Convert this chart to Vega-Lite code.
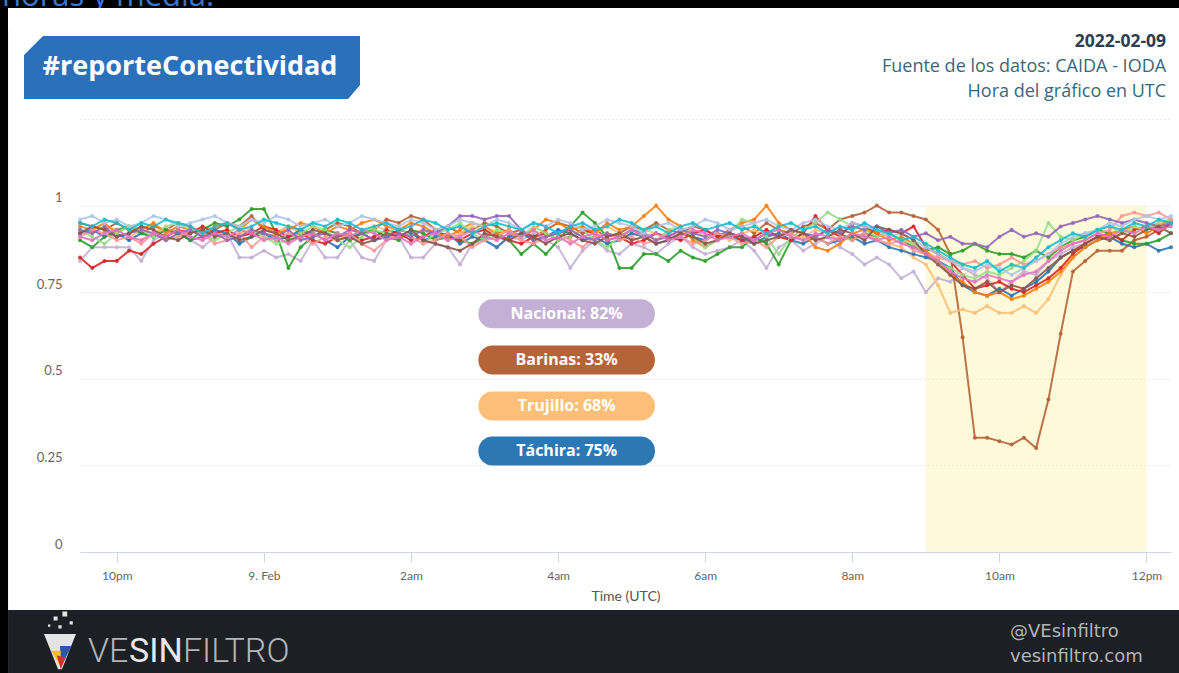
{
"$schema": "https://vega.github.io/schema/vega-lite/v6.json",
"width": 1091, "height": 433,
"autosize": {"type": "none"},
"padding": {"left": 80, "top": 119, "right": 8, "bottom": 121},
"background": "white",
"config": {"legend": {"disable": true}, "view": {"stroke": null}},
"data": {"values": [
{"t":"2022-02-08T21:30","NAC":0.84,"BAR":0.95,"TRU":0.93,"TAC":0.92,"MER":0.90,"ZUL":0.85,"LAR":0.94,"APU":0.93,"FAL":0.91,"SUC":0.93,"ARA":0.96,"MIR":0.92,"BOL":0.91,"YAR":0.95},
{"t":"2022-02-08T21:40","NAC":0.88,"BAR":0.94,"TRU":0.92,"TAC":0.93,"MER":0.88,"ZUL":0.82,"LAR":0.93,"APU":0.91,"FAL":0.93,"SUC":0.92,"ARA":0.97,"MIR":0.94,"BOL":0.90,"YAR":0.94},
{"t":"2022-02-08T21:50","NAC":0.88,"BAR":0.93,"TRU":0.94,"TAC":0.91,"MER":0.91,"ZUL":0.84,"LAR":0.95,"APU":0.89,"FAL":0.92,"SUC":0.94,"ARA":0.95,"MIR":0.93,"BOL":0.92,"YAR":0.96},
{"t":"2022-02-08T22:00","NAC":0.88,"BAR":0.95,"TRU":0.93,"TAC":0.92,"MER":0.93,"ZUL":0.84,"LAR":0.92,"APU":0.92,"FAL":0.90,"SUC":0.91,"ARA":0.96,"MIR":0.91,"BOL":0.93,"YAR":0.95},
{"t":"2022-02-08T22:10","NAC":0.88,"BAR":0.93,"TRU":0.91,"TAC":0.90,"MER":0.94,"ZUL":0.87,"LAR":0.94,"APU":0.94,"FAL":0.91,"SUC":0.92,"ARA":0.94,"MIR":0.92,"BOL":0.91,"YAR":0.93},
{"t":"2022-02-08T22:20","NAC":0.84,"BAR":0.92,"TRU":0.93,"TAC":0.92,"MER":0.92,"ZUL":0.86,"LAR":0.93,"APU":0.93,"FAL":0.89,"SUC":0.93,"ARA":0.95,"MIR":0.94,"BOL":0.90,"YAR":0.95},
{"t":"2022-02-08T22:30","NAC":0.90,"BAR":0.94,"TRU":0.92,"TAC":0.91,"MER":0.91,"ZUL":0.89,"LAR":0.95,"APU":0.91,"FAL":0.92,"SUC":0.92,"ARA":0.97,"MIR":0.93,"BOL":0.92,"YAR":0.94},
{"t":"2022-02-08T22:40","NAC":0.92,"BAR":0.93,"TRU":0.94,"TAC":0.93,"MER":0.93,"ZUL":0.91,"LAR":0.92,"APU":0.94,"FAL":0.90,"SUC":0.90,"ARA":0.96,"MIR":0.91,"BOL":0.91,"YAR":0.96},
{"t":"2022-02-08T22:50","NAC":0.93,"BAR":0.95,"TRU":0.91,"TAC":0.92,"MER":0.92,"ZUL":0.93,"LAR":0.94,"APU":0.95,"FAL":0.91,"SUC":0.92,"ARA":0.94,"MIR":0.90,"BOL":0.93,"YAR":0.95},
{"t":"2022-02-08T23:00","NAC":0.90,"BAR":0.94,"TRU":0.92,"TAC":0.90,"MER":0.90,"ZUL":0.92,"LAR":0.93,"APU":0.93,"FAL":0.93,"SUC":0.93,"ARA":0.95,"MIR":0.92,"BOL":0.91,"YAR":0.94},
{"t":"2022-02-08T23:10","NAC":0.88,"BAR":0.92,"TRU":0.94,"TAC":0.91,"MER":0.93,"ZUL":0.94,"LAR":0.91,"APU":0.92,"FAL":0.92,"SUC":0.91,"ARA":0.96,"MIR":0.93,"BOL":0.90,"YAR":0.92},
{"t":"2022-02-08T23:20","NAC":0.91,"BAR":0.93,"TRU":0.93,"TAC":0.93,"MER":0.95,"ZUL":0.92,"LAR":0.94,"APU":0.90,"FAL":0.89,"SUC":0.92,"ARA":0.97,"MIR":0.91,"BOL":0.92,"YAR":0.94},
{"t":"2022-02-08T23:30","NAC":0.92,"BAR":0.95,"TRU":0.91,"TAC":0.92,"MER":0.94,"ZUL":0.93,"LAR":0.95,"APU":0.92,"FAL":0.90,"SUC":0.90,"ARA":0.95,"MIR":0.92,"BOL":0.91,"YAR":0.95},
{"t":"2022-02-08T23:40","NAC":0.85,"BAR":0.94,"TRU":0.92,"TAC":0.89,"MER":0.96,"ZUL":0.91,"LAR":0.93,"APU":0.94,"FAL":0.92,"SUC":0.91,"ARA":0.94,"MIR":0.90,"BOL":0.93,"YAR":0.93},
{"t":"2022-02-08T23:50","NAC":0.85,"BAR":0.97,"TRU":0.93,"TAC":0.91,"MER":0.99,"ZUL":0.92,"LAR":0.96,"APU":0.93,"FAL":0.88,"SUC":0.93,"ARA":0.96,"MIR":0.91,"BOL":0.92,"YAR":0.94},
{"t":"2022-02-09T00:00","NAC":0.87,"BAR":0.93,"TRU":0.90,"TAC":0.92,"MER":0.99,"ZUL":0.94,"LAR":0.94,"APU":0.91,"FAL":0.91,"SUC":0.92,"ARA":0.95,"MIR":0.93,"BOL":0.90,"YAR":0.96},
{"t":"2022-02-09T00:10","NAC":0.85,"BAR":0.92,"TRU":0.92,"TAC":0.90,"MER":0.92,"ZUL":0.93,"LAR":0.92,"APU":0.89,"FAL":0.90,"SUC":0.91,"ARA":0.97,"MIR":0.92,"BOL":0.91,"YAR":0.95},
{"t":"2022-02-09T00:20","NAC":0.86,"BAR":0.94,"TRU":0.94,"TAC":0.91,"MER":0.82,"ZUL":0.91,"LAR":0.93,"APU":0.90,"FAL":0.92,"SUC":0.93,"ARA":0.96,"MIR":0.90,"BOL":0.89,"YAR":0.94},
{"t":"2022-02-09T00:30","NAC":0.84,"BAR":0.93,"TRU":0.92,"TAC":0.93,"MER":0.88,"ZUL":0.92,"LAR":0.95,"APU":0.92,"FAL":0.91,"SUC":0.90,"ARA":0.94,"MIR":0.91,"BOL":0.91,"YAR":0.93},
{"t":"2022-02-09T00:40","NAC":0.90,"BAR":0.91,"TRU":0.91,"TAC":0.92,"MER":0.91,"ZUL":0.90,"LAR":0.94,"APU":0.94,"FAL":0.89,"SUC":0.91,"ARA":0.95,"MIR":0.93,"BOL":0.92,"YAR":0.95},
{"t":"2022-02-09T00:50","NAC":0.85,"BAR":0.93,"TRU":0.93,"TAC":0.90,"MER":0.93,"ZUL":0.89,"LAR":0.92,"APU":0.93,"FAL":0.91,"SUC":0.92,"ARA":0.96,"MIR":0.92,"BOL":0.90,"YAR":0.94},
{"t":"2022-02-09T01:00","NAC":0.85,"BAR":0.95,"TRU":0.92,"TAC":0.88,"MER":0.92,"ZUL":0.91,"LAR":0.94,"APU":0.90,"FAL":0.90,"SUC":0.91,"ARA":0.94,"MIR":0.90,"BOL":0.92,"YAR":0.96},
{"t":"2022-02-09T01:10","NAC":0.90,"BAR":0.94,"TRU":0.90,"TAC":0.91,"MER":0.90,"ZUL":0.92,"LAR":0.93,"APU":0.88,"FAL":0.92,"SUC":0.93,"ARA":0.95,"MIR":0.91,"BOL":0.91,"YAR":0.95},
{"t":"2022-02-09T01:20","NAC":0.85,"BAR":0.92,"TRU":0.92,"TAC":0.92,"MER":0.92,"ZUL":0.90,"LAR":0.95,"APU":0.91,"FAL":0.89,"SUC":0.92,"ARA":0.97,"MIR":0.89,"BOL":0.93,"YAR":0.93},
{"t":"2022-02-09T01:30","NAC":0.84,"BAR":0.93,"TRU":0.94,"TAC":0.90,"MER":0.93,"ZUL":0.91,"LAR":0.96,"APU":0.93,"FAL":0.87,"SUC":0.90,"ARA":0.96,"MIR":0.90,"BOL":0.92,"YAR":0.94},
{"t":"2022-02-09T01:40","NAC":0.90,"BAR":0.96,"TRU":0.93,"TAC":0.91,"MER":0.91,"ZUL":0.93,"LAR":0.94,"APU":0.92,"FAL":0.90,"SUC":0.91,"ARA":0.95,"MIR":0.92,"BOL":0.90,"YAR":0.95},
{"t":"2022-02-09T01:50","NAC":0.91,"BAR":0.95,"TRU":0.91,"TAC":0.93,"MER":0.90,"ZUL":0.92,"LAR":0.93,"APU":0.94,"FAL":0.92,"SUC":0.92,"ARA":0.94,"MIR":0.91,"BOL":0.91,"YAR":0.93},
{"t":"2022-02-09T02:00","NAC":0.85,"BAR":0.97,"TRU":0.92,"TAC":0.92,"MER":0.93,"ZUL":0.90,"LAR":0.95,"APU":0.91,"FAL":0.91,"SUC":0.91,"ARA":0.96,"MIR":0.93,"BOL":0.89,"YAR":0.94},
{"t":"2022-02-09T02:10","NAC":0.85,"BAR":0.96,"TRU":0.93,"TAC":0.90,"MER":0.92,"ZUL":0.91,"LAR":0.94,"APU":0.89,"FAL":0.89,"SUC":0.93,"ARA":0.95,"MIR":0.90,"BOL":0.91,"YAR":0.96},
{"t":"2022-02-09T02:20","NAC":0.89,"BAR":0.93,"TRU":0.91,"TAC":0.91,"MER":0.90,"ZUL":0.93,"LAR":0.92,"APU":0.92,"FAL":0.90,"SUC":0.92,"ARA":0.93,"MIR":0.89,"BOL":0.92,"YAR":0.95},
{"t":"2022-02-09T02:30","NAC":0.88,"BAR":0.94,"TRU":0.90,"TAC":0.92,"MER":0.91,"ZUL":0.91,"LAR":0.91,"APU":0.93,"FAL":0.92,"SUC":0.94,"ARA":0.94,"MIR":0.88,"BOL":0.90,"YAR":0.93},
{"t":"2022-02-09T02:40","NAC":0.83,"BAR":0.92,"TRU":0.92,"TAC":0.89,"MER":0.90,"ZUL":0.90,"LAR":0.93,"APU":0.95,"FAL":0.91,"SUC":0.97,"ARA":0.96,"MIR":0.87,"BOL":0.91,"YAR":0.94},
{"t":"2022-02-09T02:50","NAC":0.89,"BAR":0.93,"TRU":0.94,"TAC":0.91,"MER":0.89,"ZUL":0.92,"LAR":0.95,"APU":0.92,"FAL":0.88,"SUC":0.97,"ARA":0.95,"MIR":0.89,"BOL":0.93,"YAR":0.92},
{"t":"2022-02-09T03:00","NAC":0.90,"BAR":0.95,"TRU":0.93,"TAC":0.90,"MER":0.91,"ZUL":0.93,"LAR":0.94,"APU":0.90,"FAL":0.90,"SUC":0.96,"ARA":0.94,"MIR":0.92,"BOL":0.91,"YAR":0.94},
{"t":"2022-02-09T03:10","NAC":0.88,"BAR":0.94,"TRU":0.92,"TAC":0.88,"MER":0.92,"ZUL":0.91,"LAR":0.92,"APU":0.93,"FAL":0.91,"SUC":0.97,"ARA":0.96,"MIR":0.91,"BOL":0.90,"YAR":0.95},
{"t":"2022-02-09T03:20","NAC":0.91,"BAR":0.92,"TRU":0.90,"TAC":0.91,"MER":0.90,"ZUL":0.90,"LAR":0.93,"APU":0.92,"FAL":0.93,"SUC":0.97,"ARA":0.95,"MIR":0.90,"BOL":0.92,"YAR":0.94},
{"t":"2022-02-09T03:30","NAC":0.90,"BAR":0.93,"TRU":0.92,"TAC":0.92,"MER":0.86,"ZUL":0.89,"LAR":0.91,"APU":0.91,"FAL":0.90,"SUC":0.93,"ARA":0.93,"MIR":0.92,"BOL":0.91,"YAR":0.93},
{"t":"2022-02-09T03:40","NAC":0.92,"BAR":0.91,"TRU":0.93,"TAC":0.90,"MER":0.89,"ZUL":0.91,"LAR":0.93,"APU":0.94,"FAL":0.89,"SUC":0.90,"ARA":0.95,"MIR":0.91,"BOL":0.93,"YAR":0.95},
{"t":"2022-02-09T03:50","NAC":0.90,"BAR":0.93,"TRU":0.91,"TAC":0.91,"MER":0.86,"ZUL":0.92,"LAR":0.96,"APU":0.92,"FAL":0.91,"SUC":0.91,"ARA":0.94,"MIR":0.89,"BOL":0.90,"YAR":0.94},
{"t":"2022-02-09T04:00","NAC":0.88,"BAR":0.95,"TRU":0.92,"TAC":0.93,"MER":0.90,"ZUL":0.90,"LAR":0.95,"APU":0.90,"FAL":0.92,"SUC":0.92,"ARA":0.96,"MIR":0.91,"BOL":0.91,"YAR":0.92},
{"t":"2022-02-09T04:10","NAC":0.82,"BAR":0.94,"TRU":0.93,"TAC":0.92,"MER":0.94,"ZUL":0.91,"LAR":0.93,"APU":0.91,"FAL":0.90,"SUC":0.93,"ARA":0.95,"MIR":0.92,"BOL":0.89,"YAR":0.94},
{"t":"2022-02-09T04:20","NAC":0.87,"BAR":0.92,"TRU":0.91,"TAC":0.90,"MER":0.98,"ZUL":0.93,"LAR":0.94,"APU":0.93,"FAL":0.88,"SUC":0.91,"ARA":0.93,"MIR":0.90,"BOL":0.91,"YAR":0.95},
{"t":"2022-02-09T04:30","NAC":0.90,"BAR":0.93,"TRU":0.92,"TAC":0.91,"MER":0.95,"ZUL":0.92,"LAR":0.92,"APU":0.90,"FAL":0.91,"SUC":0.90,"ARA":0.94,"MIR":0.89,"BOL":0.92,"YAR":0.93},
{"t":"2022-02-09T04:40","NAC":0.87,"BAR":0.91,"TRU":0.94,"TAC":0.89,"MER":0.91,"ZUL":0.90,"LAR":0.95,"APU":0.88,"FAL":0.92,"SUC":0.92,"ARA":0.96,"MIR":0.91,"BOL":0.90,"YAR":0.94},
{"t":"2022-02-09T04:50","NAC":0.86,"BAR":0.92,"TRU":0.92,"TAC":0.90,"MER":0.82,"ZUL":0.91,"LAR":0.93,"APU":0.91,"FAL":0.90,"SUC":0.91,"ARA":0.95,"MIR":0.92,"BOL":0.91,"YAR":0.96},
{"t":"2022-02-09T05:00","NAC":0.89,"BAR":0.94,"TRU":0.91,"TAC":0.92,"MER":0.82,"ZUL":0.89,"LAR":0.94,"APU":0.93,"FAL":0.91,"SUC":0.93,"ARA":0.94,"MIR":0.90,"BOL":0.93,"YAR":0.95},
{"t":"2022-02-09T05:10","NAC":0.88,"BAR":0.93,"TRU":0.93,"TAC":0.91,"MER":0.86,"ZUL":0.90,"LAR":0.97,"APU":0.92,"FAL":0.89,"SUC":0.92,"ARA":0.92,"MIR":0.91,"BOL":0.91,"YAR":0.93},
{"t":"2022-02-09T05:20","NAC":0.86,"BAR":0.95,"TRU":0.92,"TAC":0.89,"MER":0.86,"ZUL":0.92,"LAR":1.00,"APU":0.90,"FAL":0.90,"SUC":0.90,"ARA":0.94,"MIR":0.89,"BOL":0.92,"YAR":0.94},
{"t":"2022-02-09T05:30","NAC":0.89,"BAR":0.93,"TRU":0.90,"TAC":0.90,"MER":0.84,"ZUL":0.91,"LAR":0.96,"APU":0.93,"FAL":0.92,"SUC":0.91,"ARA":0.95,"MIR":0.90,"BOL":0.90,"YAR":0.92},
{"t":"2022-02-09T05:40","NAC":0.91,"BAR":0.92,"TRU":0.92,"TAC":0.92,"MER":0.87,"ZUL":0.90,"LAR":0.94,"APU":0.94,"FAL":0.91,"SUC":0.93,"ARA":0.93,"MIR":0.92,"BOL":0.91,"YAR":0.94},
{"t":"2022-02-09T05:50","NAC":0.88,"BAR":0.94,"TRU":0.93,"TAC":0.91,"MER":0.85,"ZUL":0.92,"LAR":0.90,"APU":0.91,"FAL":0.89,"SUC":0.92,"ARA":0.94,"MIR":0.91,"BOL":0.93,"YAR":0.95},
{"t":"2022-02-09T06:00","NAC":0.86,"BAR":0.93,"TRU":0.91,"TAC":0.90,"MER":0.84,"ZUL":0.93,"LAR":0.88,"APU":0.88,"FAL":0.90,"SUC":0.91,"ARA":0.96,"MIR":0.89,"BOL":0.92,"YAR":0.93},
{"t":"2022-02-09T06:10","NAC":0.87,"BAR":0.91,"TRU":0.92,"TAC":0.92,"MER":0.86,"ZUL":0.91,"LAR":0.90,"APU":0.90,"FAL":0.92,"SUC":0.93,"ARA":0.95,"MIR":0.90,"BOL":0.90,"YAR":0.94},
{"t":"2022-02-09T06:20","NAC":0.88,"BAR":0.93,"TRU":0.90,"TAC":0.91,"MER":0.88,"ZUL":0.92,"LAR":0.93,"APU":0.92,"FAL":0.91,"SUC":0.92,"ARA":0.93,"MIR":0.92,"BOL":0.91,"YAR":0.95},
{"t":"2022-02-09T06:30","NAC":0.90,"BAR":0.94,"TRU":0.92,"TAC":0.90,"MER":0.88,"ZUL":0.90,"LAR":0.95,"APU":0.96,"FAL":0.89,"SUC":0.91,"ARA":0.94,"MIR":0.91,"BOL":0.92,"YAR":0.93},
{"t":"2022-02-09T06:40","NAC":0.87,"BAR":0.92,"TRU":0.93,"TAC":0.89,"MER":0.91,"ZUL":0.91,"LAR":0.96,"APU":0.95,"FAL":0.90,"SUC":0.90,"ARA":0.95,"MIR":0.89,"BOL":0.90,"YAR":0.94},
{"t":"2022-02-09T06:50","NAC":0.82,"BAR":0.95,"TRU":0.91,"TAC":0.91,"MER":0.89,"ZUL":0.93,"LAR":1.00,"APU":0.91,"FAL":0.88,"SUC":0.92,"ARA":0.96,"MIR":0.90,"BOL":0.92,"YAR":0.92},
{"t":"2022-02-09T07:00","NAC":0.88,"BAR":0.93,"TRU":0.92,"TAC":0.92,"MER":0.83,"ZUL":0.91,"LAR":0.95,"APU":0.86,"FAL":0.91,"SUC":0.91,"ARA":0.94,"MIR":0.91,"BOL":0.93,"YAR":0.94},
{"t":"2022-02-09T07:10","NAC":0.90,"BAR":0.92,"TRU":0.90,"TAC":0.90,"MER":0.90,"ZUL":0.90,"LAR":0.93,"APU":0.91,"FAL":0.92,"SUC":0.93,"ARA":0.93,"MIR":0.93,"BOL":0.91,"YAR":0.95},
{"t":"2022-02-09T07:20","NAC":0.87,"BAR":0.94,"TRU":0.91,"TAC":0.89,"MER":0.92,"ZUL":0.92,"LAR":0.92,"APU":0.93,"FAL":0.90,"SUC":0.92,"ARA":0.95,"MIR":0.92,"BOL":0.90,"YAR":0.93},
{"t":"2022-02-09T07:30","NAC":0.89,"BAR":0.95,"TRU":0.93,"TAC":0.91,"MER":0.91,"ZUL":0.97,"LAR":0.88,"APU":0.95,"FAL":0.91,"SUC":0.91,"ARA":0.96,"MIR":0.90,"BOL":0.92,"YAR":0.94},
{"t":"2022-02-09T07:40","NAC":0.91,"BAR":0.93,"TRU":0.92,"TAC":0.89,"MER":0.93,"ZUL":0.93,"LAR":0.87,"APU":0.98,"FAL":0.89,"SUC":0.93,"ARA":0.94,"MIR":0.91,"BOL":0.91,"YAR":0.92},
{"t":"2022-02-09T07:50","NAC":0.88,"BAR":0.96,"TRU":0.90,"TAC":0.90,"MER":0.92,"ZUL":0.91,"LAR":0.89,"APU":0.96,"FAL":0.91,"SUC":0.92,"ARA":0.93,"MIR":0.93,"BOL":0.90,"YAR":0.94},
{"t":"2022-02-09T08:00","NAC":0.86,"BAR":0.97,"TRU":0.91,"TAC":0.91,"MER":0.90,"ZUL":0.95,"LAR":0.92,"APU":0.94,"FAL":0.90,"SUC":0.94,"ARA":0.95,"MIR":0.92,"BOL":0.92,"YAR":0.93},
{"t":"2022-02-09T08:10","NAC":0.83,"BAR":0.98,"TRU":0.92,"TAC":0.89,"MER":0.92,"ZUL":0.94,"LAR":0.93,"APU":0.93,"FAL":0.92,"SUC":0.93,"ARA":0.94,"MIR":0.90,"BOL":0.91,"YAR":0.95},
{"t":"2022-02-09T08:20","NAC":0.85,"BAR":1.00,"TRU":0.90,"TAC":0.90,"MER":0.91,"ZUL":0.92,"LAR":0.92,"APU":0.91,"FAL":0.90,"SUC":0.94,"ARA":0.93,"MIR":0.94,"BOL":0.90,"YAR":0.93},
{"t":"2022-02-09T08:30","NAC":0.83,"BAR":0.98,"TRU":0.89,"TAC":0.88,"MER":0.92,"ZUL":0.93,"LAR":0.90,"APU":0.92,"FAL":0.89,"SUC":0.92,"ARA":0.91,"MIR":0.93,"BOL":0.91,"YAR":0.92},
{"t":"2022-02-09T08:40","NAC":0.79,"BAR":0.98,"TRU":0.88,"TAC":0.87,"MER":0.90,"ZUL":0.92,"LAR":0.91,"APU":0.90,"FAL":0.90,"SUC":0.93,"ARA":0.92,"MIR":0.92,"BOL":0.89,"YAR":0.90},
{"t":"2022-02-09T08:50","NAC":0.81,"BAR":0.97,"TRU":0.85,"TAC":0.86,"MER":0.88,"ZUL":0.94,"LAR":0.89,"APU":0.89,"FAL":0.87,"SUC":0.91,"ARA":0.90,"MIR":0.90,"BOL":0.88,"YAR":0.91},
{"t":"2022-02-09T09:00","NAC":0.75,"BAR":0.96,"TRU":0.83,"TAC":0.85,"MER":0.87,"ZUL":0.88,"LAR":0.87,"APU":0.86,"FAL":0.86,"SUC":0.92,"ARA":0.88,"MIR":0.86,"BOL":0.86,"YAR":0.89},
{"t":"2022-02-09T09:10","NAC":0.79,"BAR":0.93,"TRU":0.77,"TAC":0.84,"MER":0.88,"ZUL":0.86,"LAR":0.84,"APU":0.83,"FAL":0.85,"SUC":0.90,"ARA":0.86,"MIR":0.83,"BOL":0.84,"YAR":0.87},
{"t":"2022-02-09T09:20","NAC":0.78,"BAR":0.86,"TRU":0.69,"TAC":0.82,"MER":0.86,"ZUL":0.84,"LAR":0.80,"APU":0.82,"FAL":0.84,"SUC":0.91,"ARA":0.84,"MIR":0.80,"BOL":0.81,"YAR":0.85},
{"t":"2022-02-09T09:30","NAC":0.82,"BAR":0.62,"TRU":0.70,"TAC":0.77,"MER":0.87,"ZUL":0.80,"LAR":0.78,"APU":0.80,"FAL":0.83,"SUC":0.89,"ARA":0.82,"MIR":0.77,"BOL":0.79,"YAR":0.83},
{"t":"2022-02-09T09:40","NAC":0.80,"BAR":0.33,"TRU":0.69,"TAC":0.75,"MER":0.89,"ZUL":0.76,"LAR":0.75,"APU":0.79,"FAL":0.84,"SUC":0.89,"ARA":0.81,"MIR":0.76,"BOL":0.78,"YAR":0.82},
{"t":"2022-02-09T09:50","NAC":0.79,"BAR":0.33,"TRU":0.71,"TAC":0.74,"MER":0.87,"ZUL":0.77,"LAR":0.74,"APU":0.81,"FAL":0.82,"SUC":0.88,"ARA":0.83,"MIR":0.78,"BOL":0.80,"YAR":0.84},
{"t":"2022-02-09T10:00","NAC":0.75,"BAR":0.32,"TRU":0.69,"TAC":0.76,"MER":0.86,"ZUL":0.78,"LAR":0.75,"APU":0.80,"FAL":0.83,"SUC":0.91,"ARA":0.82,"MIR":0.75,"BOL":0.79,"YAR":0.81},
{"t":"2022-02-09T10:10","NAC":0.78,"BAR":0.31,"TRU":0.69,"TAC":0.74,"MER":0.86,"ZUL":0.76,"LAR":0.73,"APU":0.82,"FAL":0.85,"SUC":0.93,"ARA":0.80,"MIR":0.77,"BOL":0.78,"YAR":0.83},
{"t":"2022-02-09T10:20","NAC":0.81,"BAR":0.33,"TRU":0.71,"TAC":0.76,"MER":0.85,"ZUL":0.75,"LAR":0.74,"APU":0.84,"FAL":0.83,"SUC":0.91,"ARA":0.82,"MIR":0.76,"BOL":0.80,"YAR":0.82},
{"t":"2022-02-09T10:30","NAC":0.80,"BAR":0.30,"TRU":0.69,"TAC":0.78,"MER":0.87,"ZUL":0.77,"LAR":0.76,"APU":0.87,"FAL":0.84,"SUC":0.92,"ARA":0.84,"MIR":0.79,"BOL":0.81,"YAR":0.85},
{"t":"2022-02-09T10:40","NAC":0.84,"BAR":0.44,"TRU":0.73,"TAC":0.81,"MER":0.85,"ZUL":0.79,"LAR":0.78,"APU":0.95,"FAL":0.86,"SUC":0.91,"ARA":0.86,"MIR":0.82,"BOL":0.84,"YAR":0.88},
{"t":"2022-02-09T10:50","NAC":0.86,"BAR":0.63,"TRU":0.80,"TAC":0.85,"MER":0.88,"ZUL":0.82,"LAR":0.81,"APU":0.91,"FAL":0.88,"SUC":0.94,"ARA":0.89,"MIR":0.85,"BOL":0.87,"YAR":0.90},
{"t":"2022-02-09T11:00","NAC":0.88,"BAR":0.81,"TRU":0.85,"TAC":0.87,"MER":0.90,"ZUL":0.86,"LAR":0.85,"APU":0.90,"FAL":0.89,"SUC":0.95,"ARA":0.91,"MIR":0.87,"BOL":0.89,"YAR":0.92},
{"t":"2022-02-09T11:10","NAC":0.89,"BAR":0.84,"TRU":0.88,"TAC":0.88,"MER":0.91,"ZUL":0.89,"LAR":0.88,"APU":0.92,"FAL":0.90,"SUC":0.96,"ARA":0.92,"MIR":0.89,"BOL":0.90,"YAR":0.91},
{"t":"2022-02-09T11:20","NAC":0.91,"BAR":0.87,"TRU":0.90,"TAC":0.90,"MER":0.93,"ZUL":0.91,"LAR":0.90,"APU":0.93,"FAL":0.92,"SUC":0.97,"ARA":0.93,"MIR":0.91,"BOL":0.92,"YAR":0.93},
{"t":"2022-02-09T11:30","NAC":0.90,"BAR":0.87,"TRU":0.91,"TAC":0.91,"MER":0.92,"ZUL":0.92,"LAR":0.92,"APU":0.94,"FAL":0.93,"SUC":0.96,"ARA":0.95,"MIR":0.90,"BOL":0.91,"YAR":0.94},
{"t":"2022-02-09T11:40","NAC":0.92,"BAR":0.87,"TRU":0.92,"TAC":0.89,"MER":0.90,"ZUL":0.90,"LAR":0.93,"APU":0.92,"FAL":0.97,"SUC":0.95,"ARA":0.94,"MIR":0.92,"BOL":0.93,"YAR":0.93},
{"t":"2022-02-09T11:50","NAC":0.93,"BAR":0.90,"TRU":0.93,"TAC":0.88,"MER":0.89,"ZUL":0.93,"LAR":0.94,"APU":0.94,"FAL":0.98,"SUC":0.96,"ARA":0.96,"MIR":0.91,"BOL":0.92,"YAR":0.95},
{"t":"2022-02-09T12:00","NAC":0.94,"BAR":0.91,"TRU":0.94,"TAC":0.89,"MER":0.89,"ZUL":0.94,"LAR":0.92,"APU":0.93,"FAL":0.97,"SUC":0.95,"ARA":0.97,"MIR":0.93,"BOL":0.94,"YAR":0.94},
{"t":"2022-02-09T12:10","NAC":0.95,"BAR":0.93,"TRU":0.95,"TAC":0.87,"MER":0.90,"ZUL":0.92,"LAR":0.94,"APU":0.95,"FAL":0.98,"SUC":0.94,"ARA":0.96,"MIR":0.94,"BOL":0.93,"YAR":0.96},
{"t":"2022-02-09T12:20","NAC":0.96,"BAR":0.95,"TRU":0.96,"TAC":0.88,"MER":0.92,"ZUL":0.95,"LAR":0.96,"APU":0.96,"FAL":0.96,"SUC":0.95,"ARA":0.97,"MIR":0.92,"BOL":0.94,"YAR":0.95}
]},
"layer": [
{"data": {"values": [{}]}, "mark": {"type": "rect", "color": "#000000"},
 "encoding": {"x": {"datum": {"year": 2022, "month": 2, "date": 8, "hours": 20}, "type": "temporal"},
  "x2": {"datum": {"year": 2022, "month": 2, "date": 8, "hours": 20, "minutes": 31, "seconds": 18}},
  "y": {"datum": -1, "type": "quantitative"}, "y2": {"datum": 2}}},
{"data": {"values": [{}]}, "mark": {"type": "rect", "color": "#000000"},
 "encoding": {"x": {"datum": {"year": 2022, "month": 2, "date": 8, "hours": 20}, "type": "temporal"},
  "x2": {"datum": {"year": 2022, "month": 2, "date": 9, "hours": 14}},
  "y": {"datum": 1.5704, "type": "quantitative"}, "y2": {"datum": 2}}},
{"data": {"values": [{}]}, "mark": {"type": "text", "text": "horas y media.", "align": "left", "baseline": "alphabetic", "font": "Open Sans", "fontSize": 31, "color": "#3a78d0"},
 "encoding": {"x": {"datum": {"year": 2022, "month": 2, "date": 8, "hours": 20, "minutes": 26, "seconds": 22}, "type": "temporal"},
  "y": {"datum": 1.5748, "type": "quantitative"}}},
{"data": {"values": [{}]}, "mark": {"type": "rect", "color": "#ffffff"},
 "encoding": {"x": {"datum": {"year": 2022, "month": 2, "date": 8, "hours": 20, "minutes": 31, "seconds": 18}, "type": "temporal"},
  "x2": {"datum": {"year": 2022, "month": 2, "date": 9, "hours": 14}},
  "y": {"datum": 1.5069, "type": "quantitative"}, "y2": {"datum": 1.5704}}},
{"data": {"values": [{}]}, "mark": {"type": "rect", "color": "#1c1f23"},
 "encoding": {"x": {"datum": {"year": 2022, "month": 2, "date": 8, "hours": 20, "minutes": 31, "seconds": 18}, "type": "temporal"},
  "x2": {"datum": {"year": 2022, "month": 2, "date": 9, "hours": 14}},
  "y": {"datum": -1, "type": "quantitative"}, "y2": {"datum": -0.1674}}},
{"data": {"values": [{}]}, "mark": {"type": "point", "shape": "M -0.887 -0.1875 L 1 -0.1875 L 1 0.104 L 0.929 0.1875 L -1 0.1875 L -1 -0.074 Z", "size": 112896, "filled": true, "color": "#2a70bb", "opacity": 1, "strokeWidth": 0},
 "encoding": {"x": {"datum": {"year": 2022, "month": 2, "date": 8, "hours": 23, "minutes": 1, "seconds": 22}, "type": "temporal"},
  "y": {"datum": 1.3987, "type": "quantitative"}}},
{"data": {"values": [{}]}, "mark": {"type": "text", "text": "#reporteConectividad", "align": "center", "baseline": "alphabetic", "font": "Open Sans", "fontWeight": "bold", "fontSize": 27, "color": "#ffffff"},
 "encoding": {"x": {"datum": {"year": 2022, "month": 2, "date": 8, "hours": 22, "minutes": 59, "seconds": 44}, "type": "temporal"},
  "y": {"datum": 1.3770, "type": "quantitative"}}},
{"data": {"values": [{}]}, "mark": {"type": "text", "text": "2022-02-09", "align": "right", "baseline": "alphabetic", "font": "Open Sans", "fontWeight": "bold", "fontSize": 17.5, "color": "#2c3e50"},
 "encoding": {"x": {"datum": {"year": 2022, "month": 2, "date": 9, "hours": 12, "minutes": 16}, "type": "temporal"},
  "y": {"datum": 1.4579, "type": "quantitative"}}},
{"data": {"values": [{}]}, "mark": {"type": "text", "text": "Fuente de los datos: CAIDA - IODA", "align": "right", "baseline": "alphabetic", "font": "Open Sans", "fontSize": 18, "color": "#37687a"},
 "encoding": {"x": {"datum": {"year": 2022, "month": 2, "date": 9, "hours": 12, "minutes": 16}, "type": "temporal"},
  "y": {"datum": 1.3857, "type": "quantitative"}}},
{"data": {"values": [{}]}, "mark": {"type": "text", "text": "Hora del gráfico en UTC", "align": "right", "baseline": "alphabetic", "font": "Open Sans", "fontSize": 18, "color": "#37687a"},
 "encoding": {"x": {"datum": {"year": 2022, "month": 2, "date": 9, "hours": 12, "minutes": 16}, "type": "temporal"},
  "y": {"datum": 1.3149, "type": "quantitative"}}},
{"data": {"values": [{}]}, "mark": {"type": "rect", "color": "#fcef9f", "opacity": 0.4},
 "encoding": {"x": {"datum": {"year": 2022, "month": 2, "date": 9, "hours": 9}, "type": "temporal"},
  "x2": {"datum": {"year": 2022, "month": 2, "date": 9, "hours": 12}},
  "y": {"datum": 0, "type": "quantitative"}, "y2": {"datum": 1}}},
{"transform": [{"fold": ["NAC","BAR","TRU","TAC","MER","ZUL","LAR","APU","FAL","SUC","ARA","MIR","BOL","YAR"], "as": ["s", "v"]}],
 "mark": {"type": "line", "strokeWidth": 2, "opacity": 0.9, "point": {"filled": true, "size": 16, "opacity": 0.9}},
 "encoding": {
  "x": {"field": "t", "type": "temporal", "title": "Time (UTC)",
   "scale": {"domain": [{"year": 2022, "month": 2, "date": 8, "hours": 21, "minutes": 30}, {"year": 2022, "month": 2, "date": 9, "hours": 12, "minutes": 20}], "nice": false},
   "axis": {"values": [{"year": 2022, "month": 2, "date": 8, "hours": 22}, {"year": 2022, "month": 2, "date": 9, "hours": 0}, {"year": 2022, "month": 2, "date": 9, "hours": 2}, {"year": 2022, "month": 2, "date": 9, "hours": 4}, {"year": 2022, "month": 2, "date": 9, "hours": 6}, {"year": 2022, "month": 2, "date": 9, "hours": 8}, {"year": 2022, "month": 2, "date": 9, "hours": 10}, {"year": 2022, "month": 2, "date": 9, "hours": 12}],
    "labelExpr": "hours(datum.value) == 0 ? '9. Feb' : (hours(datum.value) % 12 == 0 ? 12 : hours(datum.value) % 12) + (hours(datum.value) < 12 ? 'am' : 'pm')",
    "grid": false, "domainColor": "#ccd6eb", "tickColor": "#ccd6eb", "tickSize": 10, "labelPadding": 8,
    "labelFont": "Lato", "labelFontSize": 12, "labelColor": "#666666",
    "titleFont": "Lato", "titleFontSize": 14, "titleFontWeight": "normal", "titleColor": "#555555", "titlePadding": 8}},
  "y": {"field": "v", "type": "quantitative",
   "scale": {"domain": [0, 1.25], "nice": false},
   "axis": {"title": null, "values": [0, 0.25, 0.5, 0.75, 1, 1.25], "format": "~g",
    "labelExpr": "datum.value > 1.1 ? '' : datum.label",
    "grid": true, "gridColor": "#d4d4d4", "gridDash": [1, 3], "domain": false, "ticks": false,
    "labelPadding": 18, "labelOffset": -8, "labelFont": "Lato", "labelFontSize": 13, "labelColor": "#666666"}},
  "color": {"field": "s", "type": "nominal",
   "scale": {"domain": ["NAC","BAR","TRU","TAC","MER","ZUL","LAR","APU","FAL","SUC","ARA","MIR","BOL","YAR"],
    "range": ["#c5b0d5","#b5643a","#fdbf78","#2b78b5","#2ca02c","#d62728","#ff7f0e","#98df8a","#ff9896","#9467bd","#aec7e8","#8c564b","#e377c2","#17becf"]}}
 }},
{"data": {"values": [{}]}, "mark": {"type": "rect", "cornerRadius": 14},
 "encoding": {"x": {"datum": {"year": 2022, "month": 2, "date": 9, "hours": 2, "minutes": 55}, "type": "temporal"},
  "x2": {"datum": {"year": 2022, "month": 2, "date": 9, "hours": 5, "minutes": 19}},
  "y": {"datum": 0.6457, "type": "quantitative"}, "y2": {"datum": 0.7295},
  "color": {"datum": "NAC", "type": "nominal"}}},
{"data": {"values": [{}]}, "mark": {"type": "rect", "cornerRadius": 14},
 "encoding": {"x": {"datum": {"year": 2022, "month": 2, "date": 9, "hours": 2, "minutes": 55}, "type": "temporal"},
  "x2": {"datum": {"year": 2022, "month": 2, "date": 9, "hours": 5, "minutes": 19}},
  "y": {"datum": 0.5124, "type": "quantitative"}, "y2": {"datum": 0.5962},
  "color": {"datum": "BAR", "type": "nominal"}}},
{"data": {"values": [{}]}, "mark": {"type": "rect", "cornerRadius": 14},
 "encoding": {"x": {"datum": {"year": 2022, "month": 2, "date": 9, "hours": 2, "minutes": 55}, "type": "temporal"},
  "x2": {"datum": {"year": 2022, "month": 2, "date": 9, "hours": 5, "minutes": 19}},
  "y": {"datum": 0.3796, "type": "quantitative"}, "y2": {"datum": 0.4634},
  "color": {"datum": "TRU", "type": "nominal"}}},
{"data": {"values": [{}]}, "mark": {"type": "rect", "cornerRadius": 14},
 "encoding": {"x": {"datum": {"year": 2022, "month": 2, "date": 9, "hours": 2, "minutes": 55}, "type": "temporal"},
  "x2": {"datum": {"year": 2022, "month": 2, "date": 9, "hours": 5, "minutes": 19}},
  "y": {"datum": 0.2497, "type": "quantitative"}, "y2": {"datum": 0.3335},
  "color": {"datum": "TAC", "type": "nominal"}}},
{"data": {"values": [{}]}, "mark": {"type": "text", "text": "Nacional: 82%", "align": "center", "baseline": "middle", "font": "Open Sans", "fontWeight": "bold", "fontSize": 16, "color": "#ffffff"},
 "encoding": {"x": {"datum": {"year": 2022, "month": 2, "date": 9, "hours": 4, "minutes": 7}, "type": "temporal"}, "y": {"datum": 0.6876, "type": "quantitative"}}},
{"data": {"values": [{}]}, "mark": {"type": "text", "text": "Barinas: 33%", "align": "center", "baseline": "middle", "font": "Open Sans", "fontWeight": "bold", "fontSize": 16, "color": "#ffffff"},
 "encoding": {"x": {"datum": {"year": 2022, "month": 2, "date": 9, "hours": 4, "minutes": 7}, "type": "temporal"}, "y": {"datum": 0.5543, "type": "quantitative"}}},
{"data": {"values": [{}]}, "mark": {"type": "text", "text": "Trujillo: 68%", "align": "center", "baseline": "middle", "font": "Open Sans", "fontWeight": "bold", "fontSize": 16, "color": "#ffffff"},
 "encoding": {"x": {"datum": {"year": 2022, "month": 2, "date": 9, "hours": 4, "minutes": 7}, "type": "temporal"}, "y": {"datum": 0.4215, "type": "quantitative"}}},
{"data": {"values": [{}]}, "mark": {"type": "text", "text": "Táchira: 75%", "align": "center", "baseline": "middle", "font": "Open Sans", "fontWeight": "bold", "fontSize": 16, "color": "#ffffff"},
 "encoding": {"x": {"datum": {"year": 2022, "month": 2, "date": 9, "hours": 4, "minutes": 7}, "type": "temporal"}, "y": {"datum": 0.2916, "type": "quantitative"}}},
{"data": {"values": [{}]}, "mark": {"type": "point", "shape": "M -1 -1 L 1 -1 L 0.12 1.2 L -0.12 1.2 Z M -0.4 -2.1 h 0.25 v 0.25 h -0.25 Z M 0.15 -2.4 h 0.3 v 0.3 h -0.3 Z M 0.6 -1.8 h 0.2 v 0.2 h -0.2 Z M -0.1 -1.55 h 0.2 v 0.2 h -0.2 Z M -0.75 -1.6 h 0.15 v 0.15 h -0.15 Z", "size": 1024, "filled": true, "color": "#e4e4e4", "opacity": 1, "strokeWidth": 0},
 "encoding": {"x": {"datum": {"year": 2022, "month": 2, "date": 8, "hours": 21, "minutes": 13, "seconds": 41}, "type": "temporal"}, "y": {"datum": -0.2829, "type": "quantitative"}}},
{"data": {"values": [{}]}, "mark": {"type": "point", "shape": "M 0 -0.25 L 0.72 -0.25 L 0.05 1.1 Z", "size": 1024, "filled": true, "color": "#2f55a8", "opacity": 1, "strokeWidth": 0},
 "encoding": {"x": {"datum": {"year": 2022, "month": 2, "date": 8, "hours": 21, "minutes": 13, "seconds": 41}, "type": "temporal"}, "y": {"datum": -0.2829, "type": "quantitative"}}},
{"data": {"values": [{}]}, "mark": {"type": "point", "shape": "M -0.55 0.05 L 0.05 0.05 L 0 0.95 Z", "size": 1024, "filled": true, "color": "#f2c200", "opacity": 1, "strokeWidth": 0},
 "encoding": {"x": {"datum": {"year": 2022, "month": 2, "date": 8, "hours": 21, "minutes": 13, "seconds": 41}, "type": "temporal"}, "y": {"datum": -0.2829, "type": "quantitative"}}},
{"data": {"values": [{}]}, "mark": {"type": "point", "shape": "M -0.2 0.35 L 0.35 0.45 L 0.05 1.2 Z", "size": 1024, "filled": true, "color": "#d3312c", "opacity": 1, "strokeWidth": 0},
 "encoding": {"x": {"datum": {"year": 2022, "month": 2, "date": 8, "hours": 21, "minutes": 13, "seconds": 41}, "type": "temporal"}, "y": {"datum": -0.2829, "type": "quantitative"}}},
{"data": {"values": [{}]}, "mark": {"type": "text", "text": "VE", "align": "left", "baseline": "alphabetic", "font": "Roboto", "fontWeight": 300, "fontSize": 34, "color": "#b4b4b4"},
 "encoding": {"x": {"datum": {"year": 2022, "month": 2, "date": 8, "hours": 21, "minutes": 36, "seconds": 32}, "type": "temporal"}, "y": {"datum": -0.3176, "type": "quantitative"}}},
{"data": {"values": [{}]}, "mark": {"type": "text", "text": "SIN", "align": "left", "baseline": "alphabetic", "font": "Roboto", "fontWeight": "normal", "fontSize": 34, "color": "#e8e8e8"},
 "encoding": {"x": {"datum": {"year": 2022, "month": 2, "date": 8, "hours": 22, "minutes": 9, "seconds": 58}, "type": "temporal"}, "y": {"datum": -0.3176, "type": "quantitative"}}},
{"data": {"values": [{}]}, "mark": {"type": "text", "text": "FILTRO", "align": "left", "baseline": "alphabetic", "font": "Roboto", "fontWeight": 300, "fontSize": 34, "color": "#b4b4b4"},
 "encoding": {"x": {"datum": {"year": 2022, "month": 2, "date": 8, "hours": 22, "minutes": 54, "seconds": 1}, "type": "temporal"}, "y": {"datum": -0.3176, "type": "quantitative"}}},
{"data": {"values": [{}]}, "mark": {"type": "text", "text": "@VEsinfiltro", "align": "left", "baseline": "alphabetic", "font": "DejaVu Sans", "fontSize": 18, "color": "#b4b4b4"},
 "encoding": {"x": {"datum": {"year": 2022, "month": 2, "date": 9, "hours": 10, "minutes": 8, "seconds": 39}, "type": "temporal"}, "y": {"datum": -0.2454, "type": "quantitative"}}},
{"data": {"values": [{}]}, "mark": {"type": "text", "text": "vesinfiltro.com", "align": "left", "baseline": "alphabetic", "font": "DejaVu Sans", "fontSize": 18, "color": "#b4b4b4"},
 "encoding": {"x": {"datum": {"year": 2022, "month": 2, "date": 9, "hours": 10, "minutes": 8, "seconds": 39}, "type": "temporal"}, "y": {"datum": -0.3176, "type": "quantitative"}}}
]
}
